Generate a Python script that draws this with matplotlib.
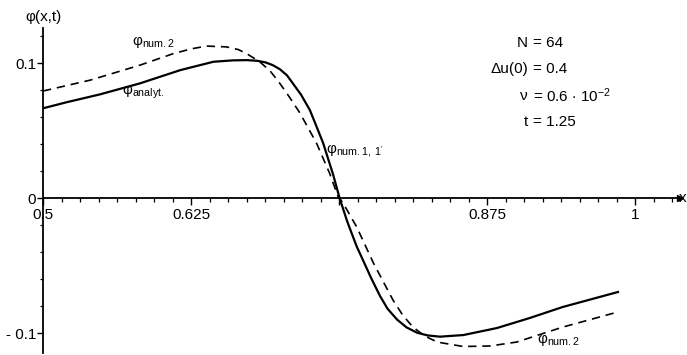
import numpy as np
import matplotlib
matplotlib.use("Agg")
import matplotlib.pyplot as plt
from matplotlib.ticker import MultipleLocator, FixedLocator

plt.rcParams['font.family'] = ['Liberation Sans', 'DejaVu Sans']
plt.rcParams['mathtext.default'] = 'regular'
plt.rcParams['font.size'] = 11

# values
x_analyt = [0.50, 0.52, 0.548, 0.582, 0.616, 0.644, 0.660, 0.672, 0.681, 0.688,
            0.694, 0.700, 0.706, 0.711, 0.718, 0.7255, 0.7365, 0.745, 0.7505,
            0.757, 0.765, 0.770, 0.777, 0.7846, 0.791, 0.799, 0.807, 0.816,
            0.825, 0.8353, 0.855, 0.8834, 0.911, 0.939, 0.9856]
y_analyt = [0.0665, 0.0710, 0.0768, 0.0850, 0.0948, 0.1010, 0.1020, 0.1022,
            0.1017, 0.1005, 0.0985, 0.0955, 0.0910, 0.0850, 0.0765, 0.0650,
            0.0410, 0.0175, 0.0, -0.0175, -0.0360, -0.0455, -0.0590, -0.0725,
            -0.0820, -0.0900, -0.0958, -0.0998, -0.1018, -0.1027, -0.1015,
            -0.0963, -0.0889, -0.0807, -0.0696]

x_num2 = [0.50, 0.540, 0.582, 0.610, 0.625, 0.638, 0.655, 0.665, 0.672, 0.683,
          0.692, 0.700, 0.708, 0.717, 0.731, 0.742, 0.749, 0.7534, 0.765,
          0.779, 0.7956, 0.804, 0.8125, 0.822, 0.833, 0.855, 0.8775, 0.900,
          0.939, 0.9856]
y_num2 = [0.0793, 0.0874, 0.0985, 0.1070, 0.1105, 0.1126, 0.1120, 0.1100,
          0.1070, 0.1010, 0.0940, 0.0850, 0.0750, 0.0630, 0.0407, 0.0185,
          0.0015, -0.0037, -0.0215, -0.0480, -0.0756, -0.0870, -0.0956,
          -0.1020, -0.1067, -0.1100, -0.1096, -0.1067, -0.0956, -0.0844]

xticks = [0.5, 0.625, 0.75, 0.875, 1.0]
xticklabels = ['0.5', '0.625', '', '0.875', '1']
yticks = [-0.1, 0.0, 0.1]
yticklabels = ['- 0.1', '0', '0.1']

params_left = ['N', 'Δu(0)', 'ν', 't']
params_right = ['= 64', '= 0.4', r'= 0.6 $\cdot$ 10$^{-2}$', '= 1.25']

fig = plt.figure(figsize=(6.87, 3.55), dpi=100)
ax = fig.add_axes([43/687, 2/355, 637/687, 325/355])

ax.plot(x_analyt, y_analyt, color='black', lw=1.6, solid_joinstyle='round')
ax.plot(x_num2, y_num2, color='black', lw=1.2, dashes=(5, 3.5))

ax.set_xlim(0.5, 1.038)
ax.set_ylim(-0.1148, 0.126)

# axes crossing like the original drawing
ax.spines['right'].set_visible(False)
ax.spines['top'].set_visible(False)
ax.spines['bottom'].set_position(('data', 0))
ax.spines['left'].set_linewidth(1.3)
ax.spines['bottom'].set_linewidth(1.3)
ax.plot(1, 0, '>k', ms=5, transform=ax.get_yaxis_transform(), clip_on=False)
ax.plot(0, 1, '^k', ms=5, transform=ax.get_xaxis_transform(), clip_on=False)

ax.xaxis.set_major_locator(FixedLocator(xticks))
ax.set_xticklabels(xticklabels)
ax.xaxis.set_minor_locator(MultipleLocator(1/64))
ax.yaxis.set_major_locator(FixedLocator(yticks))
ax.set_yticklabels(yticklabels)
ax.yaxis.set_minor_locator(MultipleLocator(0.02))
ax.tick_params(axis='x', which='major', direction='out', length=5, width=1, pad=2)
ax.tick_params(axis='x', which='minor', direction='out', length=3, width=0.9)
ax.tick_params(axis='y', which='major', direction='out', length=4, width=1, pad=1)
ax.tick_params(axis='y', which='minor', direction='out', length=2.5, width=0.9)

# axis names
ax.text(0.5, 0.134, 'φ(x,t)', ha='center', va='center', clip_on=False)
ax.text(1.0405, 0.0, 'x', ha='center', va='center', clip_on=False)

# curve labels
ax.text(0.575, 0.1156, 'φ$_{num.2}$', ha='left', va='center', fontsize=11)
ax.text(0.5667, 0.0785, 'φ$_{analyt.}$', ha='left', va='center', fontsize=11)
ax.text(0.739, 0.0356, "φ$_{num.1,\\,1'}$", ha='left', va='center', fontsize=11)
ax.text(0.917, -0.105, 'φ$_{num.2}$', ha='left', va='center', fontsize=11,
        clip_on=False)

# parameter block
for i, (a, b) in enumerate(zip(params_left, params_right)):
    yy = 0.1148 - i * 0.0195
    ax.text(0.9096, yy, a, ha='right', va='center')
    ax.text(0.9139, yy, b, ha='left', va='center')

fig.savefig('out.png', dpi=100)
